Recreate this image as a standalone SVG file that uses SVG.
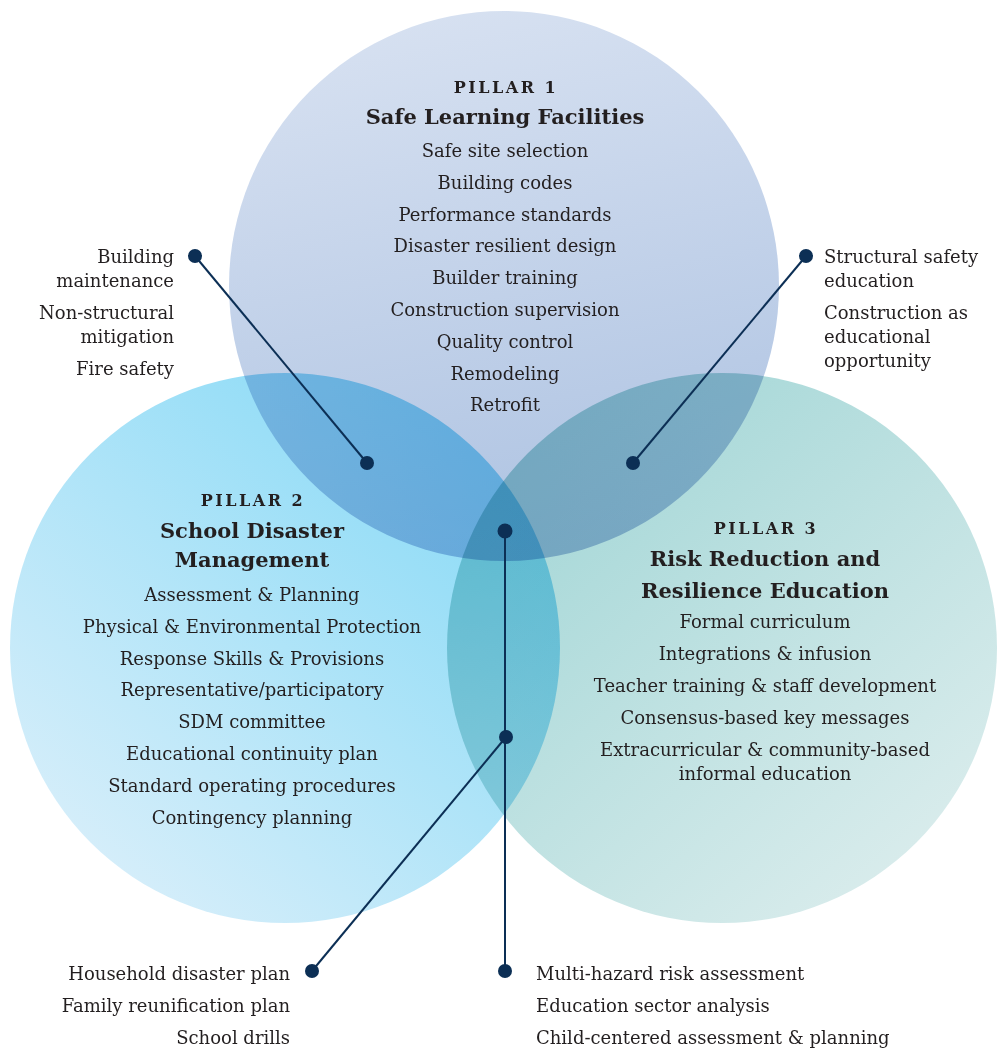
<svg xmlns="http://www.w3.org/2000/svg" width="997" height="1049" viewBox="0 0 997 1049">
<defs>
<linearGradient id="g1" x1="0.3" y1="0" x2="0.5" y2="1">
<stop offset="0" stop-color="#d7e1f1"/>
<stop offset="1" stop-color="#aec3e2"/>
</linearGradient>
<linearGradient id="g2" x1="0.85" y1="0.1" x2="0.15" y2="0.9">
<stop offset="0" stop-color="#88daf6"/>
<stop offset="1" stop-color="#d6eefa"/>
</linearGradient>
<linearGradient id="g3" x1="0.15" y1="0.1" x2="0.85" y2="0.9">
<stop offset="0" stop-color="#a2d6d6"/>
<stop offset="1" stop-color="#d9ecec"/>
</linearGradient>
<style>
.c{mix-blend-mode:multiply}
text{font-family:"DejaVu Serif","Liberation Serif",serif;fill:#231f20}
.it{font-size:18px;text-anchor:middle}
.pl{font-size:16px;font-weight:bold;letter-spacing:2.5px;text-anchor:middle}
.tt{font-size:21px;font-weight:bold;text-anchor:middle}
.r{font-size:18px;text-anchor:end}
.l{font-size:18px;text-anchor:start}
.ln{stroke:#0c2f55;stroke-width:2;fill:none}
.dt{fill:#0c2f55}
</style>
</defs>
<rect width="997" height="1049" fill="#ffffff"/>
<g id="pillar1">
<circle class="c" cx="504" cy="286" r="275" fill="url(#g1)"/>
</g>
<g id="pillar2">
<circle class="c" cx="285" cy="648" r="275" fill="url(#g2)"/>
</g>
<g id="pillar3">
<circle class="c" cx="722" cy="648" r="275" fill="url(#g3)"/>
</g>
<g id="pillar1-text">
<text class="pl" x="506" y="93">PILLAR 1</text>
<text class="tt" x="505" y="124">Safe Learning Facilities</text>
<text class="it" x="505" y="157">Safe site selection</text>
<text class="it" x="505" y="189">Building codes</text>
<text class="it" x="505" y="221">Performance standards</text>
<text class="it" x="505" y="252">Disaster resilient design</text>
<text class="it" x="505" y="284">Builder training</text>
<text class="it" x="505" y="316">Construction supervision</text>
<text class="it" x="505" y="348">Quality control</text>
<text class="it" x="505" y="380">Remodeling</text>
<text class="it" x="505" y="411">Retrofit</text>
</g>
<g id="pillar2-text">
<text class="pl" x="253" y="506">PILLAR 2</text>
<text class="tt" x="252" y="538">School Disaster</text>
<text class="tt" x="252" y="567">Management</text>
<text class="it" x="252" y="601">Assessment &amp; Planning</text>
<text class="it" x="252" y="633">Physical &amp; Environmental Protection</text>
<text class="it" x="252" y="665">Response Skills &amp; Provisions</text>
<text class="it" x="252" y="696">Representative/participatory</text>
<text class="it" x="252" y="728">SDM committee</text>
<text class="it" x="252" y="760">Educational continuity plan</text>
<text class="it" x="252" y="792">Standard operating procedures</text>
<text class="it" x="252" y="824">Contingency planning</text>
</g>
<g id="pillar3-text">
<text class="pl" x="766" y="534">PILLAR 3</text>
<text class="tt" x="765" y="566">Risk Reduction and</text>
<text class="tt" x="765" y="598">Resilience Education</text>
<text class="it" x="765" y="628">Formal curriculum</text>
<text class="it" x="765" y="660">Integrations &amp; infusion</text>
<text class="it" x="765" y="692">Teacher training &amp; staff development</text>
<text class="it" x="765" y="724">Consensus-based key messages</text>
<text class="it" x="765" y="756">Extracurricular &amp; community-based</text>
<text class="it" x="765" y="780">informal education</text>
</g>
<g id="label-p1p2">
<text class="r" x="174" y="263">Building</text>
<text class="r" x="174" y="287">maintenance</text>
<text class="r" x="174" y="319">Non-structural</text>
<text class="r" x="174" y="343">mitigation</text>
<text class="r" x="174" y="375">Fire safety</text>
</g>
<g id="label-p1p3">
<text class="l" x="824" y="263">Structural safety</text>
<text class="l" x="824" y="287">education</text>
<text class="l" x="824" y="319">Construction as</text>
<text class="l" x="824" y="343">educational</text>
<text class="l" x="824" y="367">opportunity</text>
</g>
<g id="label-p2p3">
<text class="r" x="290" y="980">Household disaster plan</text>
<text class="r" x="290" y="1012">Family reunification plan</text>
<text class="r" x="290" y="1044">School drills</text>
</g>
<g id="label-center">
<text class="l" x="536" y="980">Multi-hazard risk assessment</text>
<text class="l" x="536" y="1012">Education sector analysis</text>
<text class="l" x="536" y="1044">Child-centered assessment &amp; planning</text>
</g>
<g id="connectors">
<line class="ln" x1="195" y1="256" x2="367" y2="463"/>
<line class="ln" x1="806" y1="256" x2="633" y2="463"/>
<line class="ln" x1="505" y1="531" x2="505" y2="971"/>
<line class="ln" x1="506" y1="737" x2="312" y2="971"/>
<circle class="dt" cx="195" cy="256" r="7"/>
<circle class="dt" cx="367" cy="463" r="7"/>
<circle class="dt" cx="806" cy="256" r="7"/>
<circle class="dt" cx="633" cy="463" r="7"/>
<circle class="dt" cx="505" cy="531" r="7.5"/>
<circle class="dt" cx="506" cy="737" r="7"/>
<circle class="dt" cx="312" cy="971" r="7"/>
<circle class="dt" cx="505" cy="971" r="7"/>
</g>
</svg>
